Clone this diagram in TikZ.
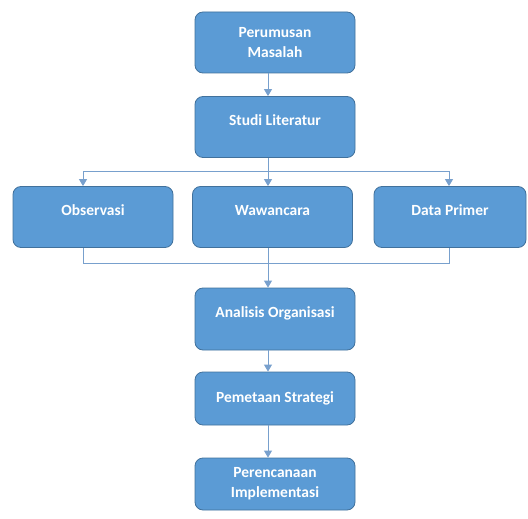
\documentclass[tikz,border=0pt]{standalone}
\usepackage{fontspec}
\setmainfont{Carlito}
\usetikzlibrary{arrows.meta}

\definecolor{boxblue}{RGB}{91,155,213}
\definecolor{boxline}{RGB}{65,113,156}
\definecolor{linkblue}{RGB}{120,160,205}

\begin{document}
\begin{tikzpicture}[x=1pt,y=-1pt,
  stepbox/.style={draw=boxline,fill=boxblue,rounded corners=8pt,line width=0.8pt,
    text=white,font=\bfseries\fontsize{15.5}{20}\selectfont,align=center,
    minimum width=160pt,minimum height=61pt,inner sep=2pt},
  naik/.style={text depth=14pt},
  link/.style={draw=linkblue,line width=0.9pt},
  arr/.style={link,-{Triangle[length=7pt,width=8pt]}}]
\useasboundingbox (0,0) rectangle (528,519);

\node[stepbox] (rumus) at (275,42.5) {Perumusan\\Masalah};
\node[stepbox,naik] (studi) at (275,127) {Studi Literatur};

\node[stepbox,naik] (obs) at (93,217) {Observasi};
\node[stepbox,naik] (waw) at (272.5,217) {Wawancara};
\node[stepbox,naik,minimum width=152pt] (data) at (450,217) {Data Primer};

\node[stepbox,naik,minimum height=62pt] (ana) at (275,319) {Analisis Organisasi};
\node[stepbox,minimum height=53pt] (peta) at (275,398.5) {Pemetaan Strategi};
\node[stepbox,minimum height=52pt] (rencana) at (275,484) {Perencanaan\\Implementasi};

% titik bantu garis
\coordinate (bagi) at (268,171);
\coordinate (kiri) at (83,171);
\coordinate (kanan) at (449,171);
\coordinate (gabkiri) at (83,263);
\coordinate (gabkanan) at (449,263);
\coordinate (gab) at (268,263);

\draw[arr] (rumus.south -| bagi) -- (studi.north -| bagi);
\draw[link] (studi.south -| bagi) -- (bagi);
\draw[link] (kiri) -- (kanan);
\draw[arr] (kiri) -- (obs.north -| kiri);
\draw[arr] (bagi) -- (waw.north -| bagi);
\draw[arr] (kanan) -- (data.north -| kanan);

\draw[link] (obs.south -| gabkiri) -- (gabkiri) -- (gabkanan) -- (data.south -| gabkanan);
\draw[arr] (waw.south -| gab) -- (ana.north -| gab);
\draw[arr] (ana.south -| gab) -- (peta.north -| gab);
\draw[arr] (peta.south -| gab) -- (rencana.north -| gab);

\end{tikzpicture}
\end{document}
